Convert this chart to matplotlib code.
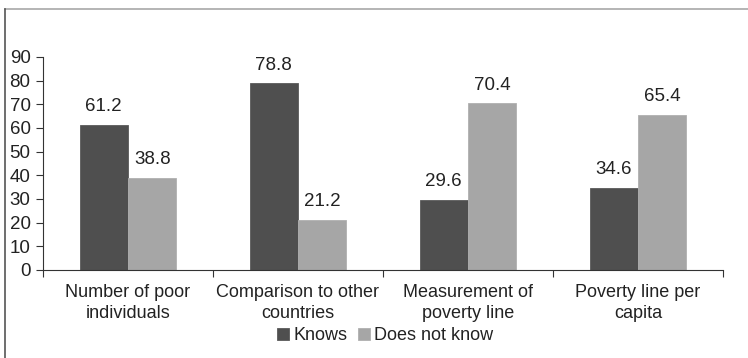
import matplotlib.pyplot as plt
from matplotlib.lines import Line2D
import numpy as np

categories = ['Number of poor\nindividuals', 'Comparison to other\ncountries',
              'Measurement of\npoverty line', 'Poverty line per\ncapita']
knows = [61.2, 78.8, 29.6, 34.6]
not_know = [38.8, 21.2, 70.4, 65.4]

plt.rcParams['font.family'] = ['Liberation Sans', 'DejaVu Sans']

fig = plt.figure(figsize=(7.48, 3.58), dpi=100)
ax = fig.add_axes([0.0575, 0.246, 0.909, 0.595])

x = np.arange(len(categories))
w = 0.285
b1 = ax.bar(x - w / 2, knows, w, color='#4f4f4f', edgecolor='#5a5a5a', linewidth=0.6, label='Knows')
b2 = ax.bar(x + w / 2, not_know, w, color='#a6a6a6', edgecolor='#b0b0b0', linewidth=0.6, label='Does not know')
for bars, vals in ((b1, knows), (b2, not_know)):
    for r, v in zip(bars, vals):
        ax.annotate(f'{v:.1f}', (r.get_x() + r.get_width() / 2, v), xytext=(0, 7),
                    textcoords='offset points', ha='center', va='bottom', fontsize=13.5, color='#222222')

ax.set_xlim(-0.5, len(categories) - 0.5)
ax.set_ylim(0, 90)
ax.set_yticks(range(0, 91, 10))
ax.tick_params(axis='y', labelsize=13.5, length=5, width=0.8, pad=4, colors='#333333', labelcolor='#222222')
ax.set_xticks(np.arange(-0.5, len(categories), 1))
ax.set_xticklabels([])
ax.set_xticks(x, minor=True)
ax.set_xticklabels(categories, minor=True, fontsize=13, color='#222222', linespacing=1.3)
ax.tick_params(axis='x', which='major', length=5, width=0.8, colors='#333333')
ax.tick_params(axis='x', which='minor', length=0, pad=10)
for s in ('top', 'right'):
    ax.spines[s].set_visible(False)
for s in ('left', 'bottom'):
    ax.spines[s].set_color('#333333')
    ax.spines[s].set_linewidth(0.8)

fig.legend(handles=[b1, b2], loc='center', bbox_to_anchor=(0.515, 0.063), ncol=2, frameon=False,
           fontsize=13, handlelength=0.65, handleheight=0.65, handletextpad=0.25, columnspacing=0.6,
           labelcolor='#222222')

# outer frame
fig.add_artist(Line2D([0.0067, 1.0], [0.975, 0.975], color='#a8a8a8', lw=1.2, transform=fig.transFigure))
fig.add_artist(Line2D([0.0067, 0.0067], [0.0, 0.975], color='#555555', lw=1.2, transform=fig.transFigure))

fig.savefig('out.png', dpi=100)
